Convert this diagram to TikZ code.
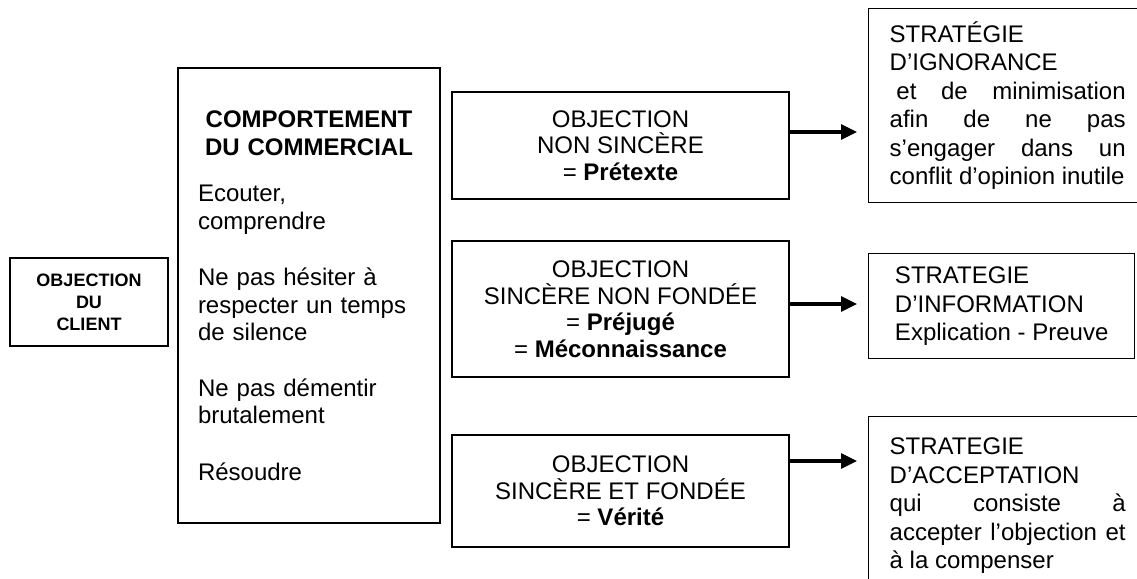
\documentclass[tikz,border=0pt]{standalone}
\usepackage{fontspec}
\setmainfont{Liberation Sans}
\usetikzlibrary{arrows.meta}
\newcommand{\jl}[1]{\hbox to 236pt{#1}}
\begin{document}
\begin{tikzpicture}[x=1pt,y=-1pt,
  box/.style={draw, line width=1.4pt, inner sep=0pt},
  midbox/.style={box, align=center, minimum width=337pt, font=\fontsize{24}{26.5}\selectfont},
  stratbox/.style={box, anchor=north west, inner xsep=21pt, align=left, font=\fontsize{24}{28.5}\selectfont},
  arr/.style={line width=3.2pt, -{Triangle[length=16pt,width=15pt]}, shorten >=11pt}
]
\useasboundingbox (0,0) rectangle (1137,578);
\clip (0,0) rectangle (1137,578);

% left box
\node[box, align=center, minimum width=158pt, minimum height=88pt,
      font=\bfseries\fontsize{18}{22}\selectfont] (client) at (89,302)
  {OBJECTION\\DU\\CLIENT};

% big box
\node[box, minimum width=262pt, minimum height=455pt, text width=222pt,
      font=\fontsize{24}{27.5}\selectfont] (comm) at (309,295.5)
  {\setlength\parindent{0pt}\setlength\parskip{0pt}%
   {\centering\bfseries COMPORTEMENT\\DU COMMERCIAL\par}
   \vspace{19pt}
   \raggedright Ecouter,\\comprendre\par
   \vspace{29pt}
   Ne pas hésiter à\\respecter un temps\\de silence\par
   \vspace{28pt}
   Ne pas démentir\\brutalement\par
   \vspace{29pt}
   Résoudre\par};

% middle boxes
\node[midbox, minimum height=107pt] (b1) at (620.5,145.5)
  {OBJECTION\\NON SINCÈRE\\= \textbf{Prétexte}};
\node[midbox, minimum height=136pt] (b2) at (620.5,309)
  {OBJECTION\\SINCÈRE NON FONDÉE\\= \textbf{Préjugé}\\= \textbf{Méconnaissance}};
\node[midbox, minimum height=112pt] (b3) at (620.5,491)
  {OBJECTION\\SINCÈRE ET FONDÉE\\= \textbf{Vérité}};

% right boxes
\node[stratbox, minimum height=194pt] (r1) at (868,8)
  {STRATÉGIE\\D’IGNORANCE\\
   \jl{\kern6.7pt et\hfill de\hfill minimisation}\\
   \jl{afin\hfill de\hfill ne\hfill pas}\\
   \jl{s’engager\hfill dans\hfill un}\\
   conflit d’opinion inutile};
\node[stratbox, minimum width=266pt, minimum height=105pt] (r2) at (868,253)
  {STRATEGIE\\D’INFORMATION\\Explication - Preuve};
\node[stratbox, minimum height=178pt] (r3) at (868,416)
  {STRATEGIE\\D’ACCEPTATION\\
   \jl{qui\hfill consiste\hfill à}\\
   \jl{accepter\hfill l’objection\hfill et}\\
   à la compenser};

% arrows
\coordinate (a1) at (0,132);
\coordinate (a2) at (0,304);
\coordinate (a3) at (0,461);
\draw[arr] (b1.east |- a1) -- (r1.west |- a1);
\draw[arr] (b2.east |- a2) -- (r2.west |- a2);
\draw[arr] (b3.east |- a3) -- (r3.west |- a3);
\end{tikzpicture}
\end{document}
